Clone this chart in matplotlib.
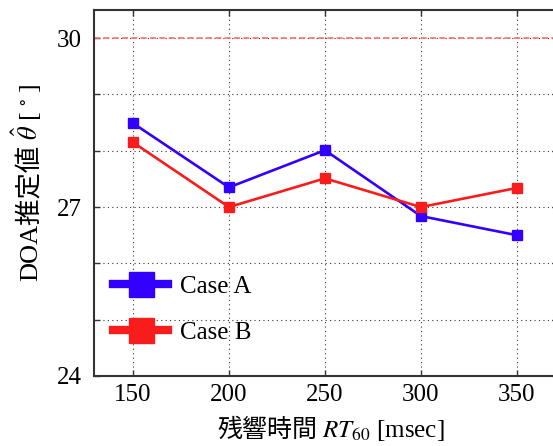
#!/usr/bin/env python3
"""DOA estimate vs. reverberation time for two cases."""

import matplotlib

matplotlib.use("Agg")
import matplotlib.pyplot as plt
from matplotlib.lines import Line2D
from matplotlib.transforms import IdentityTransform

plt.rcParams["font.family"] = ["Liberation Serif", "Noto Sans CJK JP"]
plt.rcParams["mathtext.fontset"] = "stix"

rt60 = [150, 200, 250, 300, 350]
case_a = [28.49, 27.35, 28.01, 26.84, 26.50]
case_b = [28.15, 27.00, 27.51, 27.00, 27.34]
true_doa = 30
series_labels = ["Case A", "Case B"]
y_ticks = [24, 25, 26, 27, 28, 29, 30]
y_tick_labels = ["24", "", "", "27", "", "", "30"]

BLUE = "#3300ff"
RED = "#f81c1c"
FS = 18


def chain_label(fig, pieces, center, base, vertical=False, size=FS):
    """Lay out text pieces one after another, centred on `center` (pixels)."""
    renderer = fig.canvas.get_renderer()
    texts = []
    for s in pieces:
        t = fig.text(0, 0, s, transform=IdentityTransform(), fontsize=size,
                     rotation=90 if vertical else 0, rotation_mode="anchor",
                     ha="left", va="baseline")
        texts.append(t)
    sizes = []
    for t in texts:
        bb = t.get_window_extent(renderer)
        sizes.append(bb.height if vertical else bb.width)
    gap = 5
    total = sum(sizes) + gap * (len(sizes) - 1)
    pos = center - total / 2
    for t, length in zip(texts, sizes):
        t.set_position((base, pos) if vertical else (pos, base))
        pos += length + gap


def main():
    fig = plt.figure(figsize=(5.53, 4.46), dpi=100)
    ax = fig.add_axes([94 / 553, 70 / 446, 464 / 553, 366 / 446])

    ax.axhline(true_doa, color="#ff6f6f", lw=1.2, ls=(0, (3.6, 2)), zorder=2)
    ax.plot(rt60, case_a, color=BLUE, lw=1.9, marker="s", ms=6.5, zorder=3)
    ax.plot(rt60, case_b, color=RED, lw=1.9, marker="s", ms=6.5, zorder=3)

    ax.set_xlim(129.7, 371.4)
    ax.set_ylim(24, 30.5)
    ax.set_xticks(rt60)
    ax.set_yticks(y_ticks)
    ax.set_yticklabels(y_tick_labels)
    ax.tick_params(direction="in", length=4, width=1, top=True, right=True,
                   labelsize=FS, pad=9, color="#333333")
    ax.tick_params(axis="x", pad=6)
    ax.grid(True, color="black", lw=0.8, ls=(0, (1, 3)), alpha=0.8)
    for spine in ax.spines.values():
        spine.set_linewidth(1.5)
        spine.set_color("#333333")

    handles = [
        Line2D([], [], color=BLUE, lw=6, marker="s", ms=18),
        Line2D([], [], color=RED, lw=6, marker="s", ms=18),
    ]
    ax.legend(handles, series_labels, loc="upper left",
              bbox_to_anchor=((113 - 94) / 464, 0.274), frameon=False,
              fontsize=FS, numpoints=1, handlelength=2.2, handletextpad=0.5,
              labelspacing=0.92, borderpad=0, borderaxespad=0)

    fig.canvas.draw()
    chain_label(fig, ["残響時間", "$RT_{60}$ [msec]"],
                center=331, base=446 - 437)
    chain_label(fig, ["DOA推定値", r"$\hat{\theta}$ [$\,^\circ\,$]"],
                center=446 - 182, base=38, vertical=True, size=19)

    fig.savefig("out.png", dpi=100)
    plt.close(fig)


if __name__ == "__main__":
    main()
